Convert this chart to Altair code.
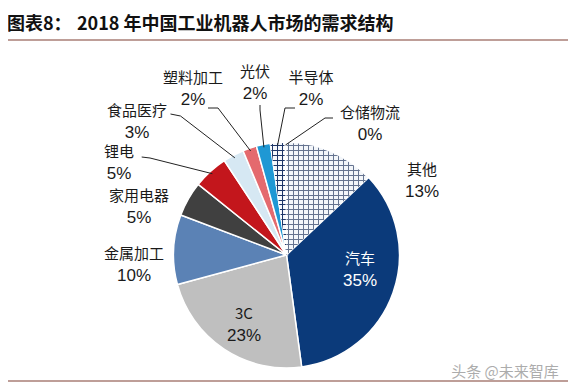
import altair as alt
import pandas as pd
import numpy as np

# ---------------- data ----------------
categories = ["其他", "汽车", "3C", "金属加工", "家用电器", "锂电",
              "食品医疗", "塑料加工", "光伏", "半导体", "仓储物流"]
shares = [13, 35, 23, 10, 5, 5, 3, 2, 2, 2, 0.3]
pct_labels = ["13%", "35%", "23%", "10%", "5%", "5%", "3%", "2%", "2%", "2%", "0%"]
title_a = "图表8："
title_b = "2018 年中国工业机器人市场的需求结构"
watermark = "头条 @未来智库"

# ---------------- styles / layout ----------------
slice_colors = ["#f3f6fa", "#0b3a7a", "#bfbfbf", "#5b82b5", "#404040", "#c3161c",
                "#d6e8f3", "#e46a6e", "#1f98d4", "#f5f7fb", "#ffffff"]
label_colors = ["#1a1a1a", "#ffffff"] + ["#1a1a1a"] * 9
W, H = 560, 374
CX, CY, R = 278.5, 247.0, 113.0
# label centre offsets from pie centre (px)
label_dx = [135.5, 73.5, -42.5, -152.5, -147.5, -167.5, -149.5, -93.5, -31.5, 24.5, 83.5]
label_dy = [-74, 15, 70, 10, -48, -92, -133, -166, -172, -166, -131.5]
# leader lines: start and elbow offsets from pie centre (px)
leader_cats = ["锂电", "食品医疗", "塑料加工", "光伏", "半导体", "仓储物流"]
leader_start = [(-144.8, -98), (-116, -141), (-78.5, -147), (-26.5, -150), (8.5, -147), (46.5, -137)]
leader_elbow = [(-136.5, -97), (-106, -139), (-68.5, -147), (-26.5, -145), (-1.5, -147), (38.5, -137)]
leader_r = 110

n = len(categories)
total = float(sum(shares))
cum = np.cumsum(shares)
a0 = 2 * np.pi * (cum - np.array(shares)) / total
a1 = 2 * np.pi * cum / total
amid = (a0 + a1) / 2

df = pd.DataFrame({
    "cat": categories,
    "share": shares,
    "order": list(range(n)),
    "pct": pct_labels,
    "lx": [CX + d for d in label_dx],
    "ly": [CY + d for d in label_dy],
    "tc": label_colors,
})

rows = []
for i, c in enumerate(leader_cats):
    k = categories.index(c)
    ex = CX + leader_r * np.sin(amid[k])
    ey = CY - leader_r * np.cos(amid[k])
    pts = [(CX + leader_start[i][0], CY + leader_start[i][1]),
           (CX + leader_elbow[i][0], CY + leader_elbow[i][1]),
           (ex, ey)]
    for j, (px, py) in enumerate(pts):
        rows.append({"cat": c, "p": j, "x": px, "y": py})
leaders = pd.DataFrame(rows)


def sector_bbox(s, e, r):
    t = np.linspace(s, e, 400)
    xs = np.concatenate([[0.0], r * np.sin(t)])
    ys = np.concatenate([[0.0], -r * np.cos(t)])
    return xs.max() - xs.min(), ys.max() - ys.min()


def stripe_gradient(size_px, pitch, lw, color, horizontal):
    clear = "rgba(255,255,255,0)"
    stops = [{"offset": 0, "color": clear}]
    pos = 2.0
    while pos < size_px - 0.5:
        a = pos / size_px
        b = min((pos + lw) / size_px, 1.0)
        stops += [{"offset": a, "color": clear}, {"offset": a, "color": color},
                  {"offset": b, "color": color}, {"offset": b, "color": clear}]
        pos += pitch
    stops.append({"offset": 1, "color": clear})
    g = {"gradient": "linear", "stops": stops, "x1": 0, "y1": 0}
    if horizontal:
        g.update({"x2": 0, "y2": 1})
    else:
        g.update({"x2": 1, "y2": 0})
    return g


base = alt.Chart(df)
theta = alt.Theta("share:Q", stack=True)
order = alt.Order("order:Q")

pie = base.mark_arc(outerRadius=R, stroke="white", strokeWidth=1.5).encode(
    theta=theta, order=order,
    color=alt.Color("cat:N", scale=alt.Scale(domain=categories, range=slice_colors),
                    sort=categories, legend=None),
    x=alt.value(CX), y=alt.value(CY),
)

layers = [pie]
for cat, col in [("其他", "#65738f"), ("半导体", "#1d3567")]:
    k = categories.index(cat)
    bw, bh = sector_bbox(a0[k], a1[k], R)
    for horiz, size in [(True, bh), (False, bw)]:
        g = stripe_gradient(size, 5.0, 1.0, col, horiz)
        layers.append(
            base.mark_arc(outerRadius=R - 1, fill=g, strokeWidth=0).encode(
                theta=theta, order=order,
                x=alt.value(CX), y=alt.value(CY),
                opacity=alt.condition(alt.datum.cat == cat, alt.value(1), alt.value(0)),
            )
        )

name_text = base.mark_text(font="Noto Sans CJK SC", fontSize=15, dy=-11).encode(
    x=alt.X("lx:Q", scale=None, axis=None), y=alt.Y("ly:Q", scale=None, axis=None),
    text="cat:N", color=alt.Color("tc:N", scale=None),
)
pct_text = base.mark_text(font="Liberation Sans", fontSize=17, dy=11).encode(
    x=alt.X("lx:Q", scale=None, axis=None), y=alt.Y("ly:Q", scale=None, axis=None),
    text="pct:N", color=alt.Color("tc:N", scale=None),
)

leader_lines = alt.Chart(leaders).mark_line(color="#222222", strokeWidth=1).encode(
    x=alt.X("x:Q", scale=None, axis=None), y=alt.Y("y:Q", scale=None, axis=None),
    detail="cat:N", order="p:Q",
)

tdf = pd.DataFrame({"a": [title_a], "b": [title_b], "w": [watermark]})
tbase = alt.Chart(tdf)
title1 = tbase.mark_text(align="left", baseline="middle", fontSize=18, fontWeight="bold",
                         font="Noto Sans CJK SC", color="#111111").encode(
    x=alt.value(-1), y=alt.value(17), text="a:N")
title2 = tbase.mark_text(align="left", baseline="middle", fontSize=18, fontWeight="bold",
                         font="Noto Sans CJK SC", color="#111111").encode(
    x=alt.value(69), y=alt.value(17), text="b:N")
wm = tbase.mark_text(align="center", baseline="middle", fontSize=15,
                     font="Noto Sans CJK SC", color="#8a8a8a", opacity=0.7).encode(
    x=alt.value(497), y=alt.value(364), text="w:N")
top_rule = tbase.mark_rule(color="#7f3f33", strokeWidth=1.2).encode(
    x=alt.value(0), x2=alt.value(W), y=alt.value(32))
bottom_rule = tbase.mark_rule(color="#7f3f33", strokeWidth=1.2).encode(
    x=alt.value(0), x2=alt.value(W), y=alt.value(373))

chart = alt.layer(
    *layers, leader_lines, name_text, pct_text, title1, title2, wm, top_rule, bottom_rule
).properties(
    width=W, height=H, padding=0,
    autosize=alt.AutoSizeParams(type="none"),
    background="white",
).configure_view(stroke=None)

chart.save("out.html", embed_options={"renderer": "svg", "actions": False})
